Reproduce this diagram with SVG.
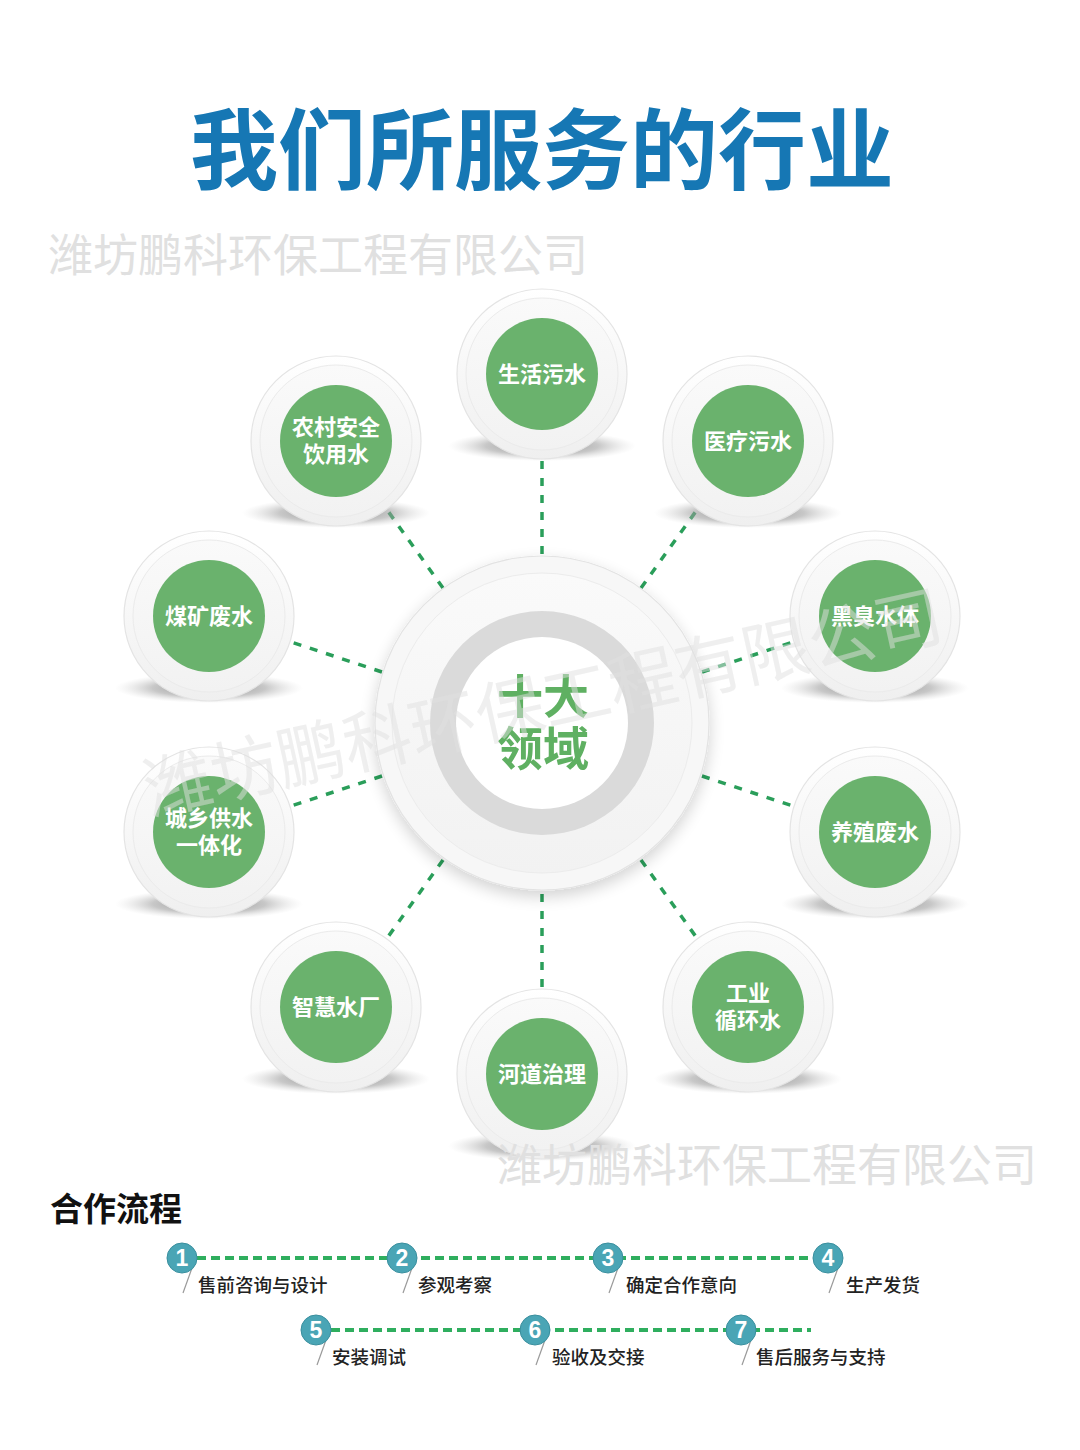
<svg xmlns="http://www.w3.org/2000/svg" width="1080" height="1450" viewBox="0 0 1080 1450">
<defs>
<style>
.cjk{font-family:"Noto Sans CJK SC","Noto Sans CJK JP",sans-serif}
.lbl{font-family:"Noto Sans CJK SC",sans-serif;font-size:22px;font-weight:700;fill:#fff;text-anchor:middle}
.step{font-family:"Noto Sans CJK SC",sans-serif;font-size:18.5px;font-weight:500;fill:#222}
.num{font-family:"Liberation Sans",Arial,sans-serif;font-size:23px;font-weight:700;fill:#fff;text-anchor:middle}
.wm{font-family:"Noto Sans CJK SC",sans-serif;fill:#e0e0e0}
.dash{stroke:#2a9e5a;stroke-width:3.5;stroke-dasharray:8 9;fill:none}
.sdash{stroke:#2fae5e;stroke-width:4;stroke-dasharray:9 5;fill:none}
.slash{stroke:#9a9a9a;stroke-width:1.2}
.badge{fill:#4aa5b5;stroke:#3a8f9e;stroke-width:1}
</style>
<radialGradient id="sh" cx="0.5" cy="0.5" r="0.5">
<stop offset="0" stop-color="#6d6d6d" stop-opacity="0.85"/>
<stop offset="0.6" stop-color="#9a9a9a" stop-opacity="0.55"/>
<stop offset="1" stop-color="#cfcfcf" stop-opacity="0"/>
</radialGradient>
<linearGradient id="disc" x1="0" y1="0" x2="0" y2="1">
<stop offset="0" stop-color="#ffffff"/>
<stop offset="1" stop-color="#efefef"/>
</linearGradient>
<linearGradient id="disc2" x1="0" y1="0" x2="0" y2="1">
<stop offset="0" stop-color="#fafafa"/>
<stop offset="1" stop-color="#f2f2f2"/>
</linearGradient>
<filter id="hubsh" x="-30%" y="-30%" width="160%" height="160%">
<feGaussianBlur in="SourceAlpha" stdDeviation="8"/>
<feOffset dx="0" dy="6"/>
<feComponentTransfer><feFuncA type="linear" slope="0.18"/></feComponentTransfer>
<feMerge><feMergeNode/><feMergeNode in="SourceGraphic"/></feMerge>
</filter>
<g id="node">
<ellipse cx="0" cy="72" rx="94" ry="15" fill="url(#sh)"/>
<circle r="85" fill="url(#disc)" stroke="#e4e4e4" stroke-width="1.2"/>
<circle r="76" fill="url(#disc2)" stroke="#ebebeb" stroke-width="1"/>
<circle r="56" fill="#6ab26d"/>
</g>
</defs>
<rect width="1080" height="1450" fill="#ffffff"/>

<text class="cjk" x="542" y="182" font-size="88" font-weight="700" fill="#1677b4" text-anchor="middle">我们所服务的行业</text>
<text class="wm" x="48" y="272" font-size="45">潍坊鹏科环保工程有限公司</text>

<g id="connectors">
<line class="dash" x1="542" y1="554" x2="542" y2="456"/>
<line class="dash" x1="641" y1="588" x2="699" y2="507"/>
<line class="dash" x1="702" y1="672" x2="796" y2="641"/>
<line class="dash" x1="702" y1="776" x2="796" y2="807"/>
<line class="dash" x1="641" y1="860" x2="699" y2="941"/>
<line class="dash" x1="542" y1="894" x2="542" y2="992"/>
<line class="dash" x1="443" y1="860" x2="385" y2="941"/>
<line class="dash" x1="382" y1="776" x2="288" y2="807"/>
<line class="dash" x1="382" y1="672" x2="288" y2="641"/>
<line class="dash" x1="443" y1="588" x2="385" y2="507"/>
</g>

<g id="hub" filter="url(#hubsh)">
<circle cx="542" cy="723" r="167" fill="#f7f7f7" stroke="#e3e3e3" stroke-width="1.2"/>
<circle cx="542" cy="723" r="150" fill="url(#disc2)" stroke="#ececec" stroke-width="1"/>
<circle cx="542" cy="723" r="112" fill="#dadada"/>
<circle cx="542" cy="723" r="86" fill="#ffffff"/>
<text class="cjk" x="543" y="713" font-size="46" font-weight="700" fill="#5fb062" text-anchor="middle">十大</text>
<text class="cjk" x="543" y="765" font-size="46" font-weight="700" fill="#5fb062" text-anchor="middle">领域</text>
</g>

<g id="n1" transform="translate(542,374)"><use href="#node"/><text class="lbl" y="8">生活污水</text></g>
<g id="n2" transform="translate(748,441)"><use href="#node"/><text class="lbl" y="8">医疗污水</text></g>
<g id="n3" transform="translate(875,616)"><use href="#node"/><text class="lbl" y="8">黑臭水体</text></g>
<g id="n4" transform="translate(875,832)"><use href="#node"/><text class="lbl" y="8">养殖废水</text></g>
<g id="n5" transform="translate(748,1007)"><use href="#node"/><text class="lbl" y="-6">工业</text><text class="lbl" y="21">循环水</text></g>
<g id="n6" transform="translate(542,1074)"><use href="#node"/><text class="lbl" y="8">河道治理</text></g>
<g id="n7" transform="translate(336,1007)"><use href="#node"/><text class="lbl" y="8">智慧水厂</text></g>
<g id="n8" transform="translate(209,832)"><use href="#node"/><text class="lbl" y="-6">城乡供水</text><text class="lbl" y="21">一体化</text></g>
<g id="n9" transform="translate(209,616)"><use href="#node"/><text class="lbl" y="8">煤矿废水</text></g>
<g id="n10" transform="translate(336,441)"><use href="#node"/><text class="lbl" y="-6">农村安全</text><text class="lbl" y="21">饮用水</text></g>

<text class="wm" x="150" y="815" font-size="68" fill-opacity="0.5" fill="#c8c8c8" transform="rotate(-12.5 150 815)">潍坊鹏科环保工程有限公司</text>
<text class="wm" x="497" y="1182" font-size="45">潍坊鹏科环保工程有限公司</text>

<text class="cjk" x="50" y="1221" font-size="33" font-weight="700" fill="#111">合作流程</text>

<g id="flow-lines">
<line class="sdash" x1="197" y1="1258" x2="813" y2="1258"/>
<line class="sdash" x1="331" y1="1330" x2="811" y2="1330"/>
<line class="slash" x1="192" y1="1268" x2="183" y2="1293"/>
<line class="slash" x1="412" y1="1268" x2="403" y2="1293"/>
<line class="slash" x1="618" y1="1268" x2="609" y2="1293"/>
<line class="slash" x1="838" y1="1268" x2="829" y2="1293"/>
<line class="slash" x1="326" y1="1340" x2="317" y2="1365"/>
<line class="slash" x1="545" y1="1340" x2="536" y2="1365"/>
<line class="slash" x1="751" y1="1340" x2="742" y2="1365"/>
</g>

<g id="s1"><circle class="badge" cx="182" cy="1258" r="15"/><text class="num" x="182" y="1266">1</text><text class="step" x="198" y="1292">售前咨询与设计</text></g>
<g id="s2"><circle class="badge" cx="402" cy="1258" r="15"/><text class="num" x="402" y="1266">2</text><text class="step" x="418" y="1292">参观考察</text></g>
<g id="s3"><circle class="badge" cx="608" cy="1258" r="15"/><text class="num" x="608" y="1266">3</text><text class="step" x="626" y="1292">确定合作意向</text></g>
<g id="s4"><circle class="badge" cx="828" cy="1258" r="15"/><text class="num" x="828" y="1266">4</text><text class="step" x="846" y="1292">生产发货</text></g>
<g id="s5"><circle class="badge" cx="316" cy="1330" r="15"/><text class="num" x="316" y="1338">5</text><text class="step" x="332" y="1364">安装调试</text></g>
<g id="s6"><circle class="badge" cx="535" cy="1330" r="15"/><text class="num" x="535" y="1338">6</text><text class="step" x="552" y="1364">验收及交接</text></g>
<g id="s7"><circle class="badge" cx="741" cy="1330" r="15"/><text class="num" x="741" y="1338">7</text><text class="step" x="756" y="1364">售后服务与支持</text></g>
</svg>
